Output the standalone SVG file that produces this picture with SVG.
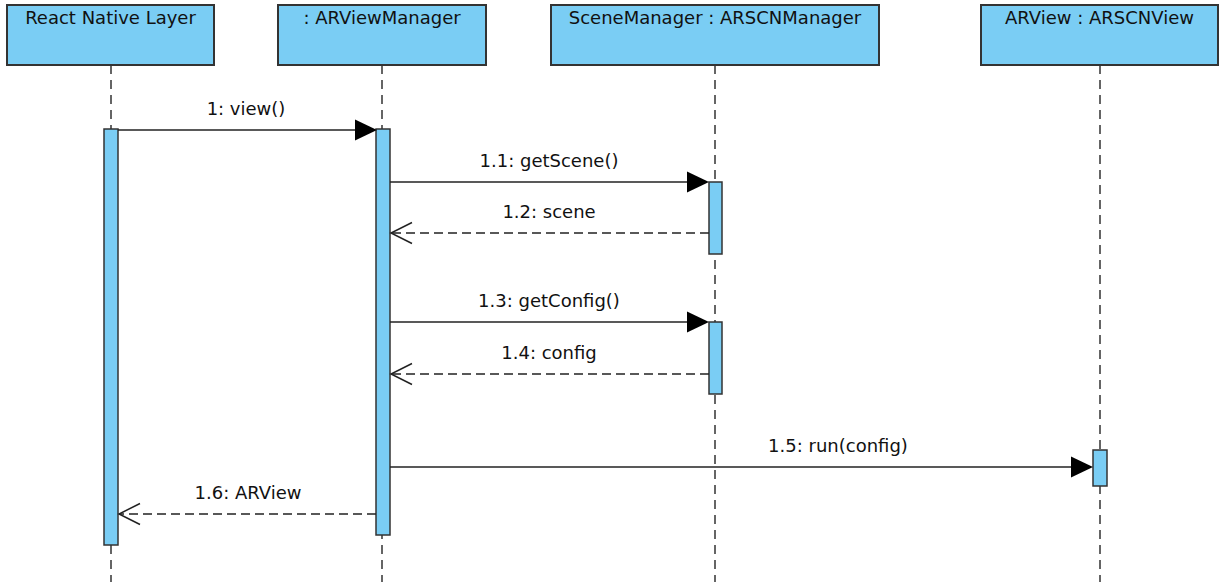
<svg xmlns="http://www.w3.org/2000/svg" width="1221" height="582" viewBox="0 0 1221 582">
  <style>
    .head { fill: #7acdf4; stroke: #333333; stroke-width: 2; }
    .bar { fill: #7acdf4; stroke: #333333; stroke-width: 1.5; }
    .life { stroke: #333333; stroke-width: 1.5; stroke-dasharray: 9 6; fill: none; }
    .call { stroke: #222222; stroke-width: 1.5; fill: none; }
    .ret { stroke: #222222; stroke-width: 1.5; stroke-dasharray: 9 5; fill: none; }
    .open { stroke: #222222; stroke-width: 1.5; fill: none; }
    .solid { fill: #000000; }
    text { font-family: "DejaVu Sans", "Liberation Sans", sans-serif; font-size: 18px; fill: #111111; text-anchor: middle; }
  </style>

  <!-- lifelines -->
  <g id="lifelines">
    <line class="life" x1="111" y1="65" x2="111" y2="582"/>
    <line class="life" x1="382" y1="65" x2="382" y2="582"/>
    <line class="life" x1="715" y1="65" x2="715" y2="582"/>
    <line class="life" x1="1100" y1="65" x2="1100" y2="582"/>
  </g>

  <g id="react-native-layer">
    <rect class="head" x="7" y="5" width="207" height="60"/>
    <text x="110.5" y="24">React Native Layer</text>
    <rect class="bar" x="104" y="129" width="14" height="416"/>
  </g>

  <g id="ar-view-manager">
    <rect class="head" x="278" y="5" width="208" height="60"/>
    <text x="382" y="24">: ARViewManager</text>
    <rect class="bar" x="376" y="129" width="14" height="406"/>
  </g>

  <g id="scene-manager">
    <rect class="head" x="551" y="5" width="328" height="60"/>
    <text x="715" y="24">SceneManager : ARSCNManager</text>
    <rect class="bar" x="709" y="182" width="13" height="72"/>
    <rect class="bar" x="709" y="322" width="13" height="72"/>
  </g>

  <g id="ar-view">
    <rect class="head" x="981" y="5" width="237" height="60"/>
    <text x="1099.5" y="24">ARView : ARSCNView</text>
    <rect class="bar" x="1093" y="450" width="14" height="36"/>
  </g>

  <!-- messages -->
  <g id="connectors">
    <line class="call" x1="118" y1="130" x2="358" y2="130"/>
    <polygon class="solid" points="355,119.5 377,130 355,140.5"/>
    <text x="246" y="115">1: view()</text>

    <line class="call" x1="390" y1="182" x2="690" y2="182"/>
    <polygon class="solid" points="687,171.5 709,182 687,192.5"/>
    <text x="549" y="167">1.1: getScene()</text>

    <line class="ret" x1="709" y1="233" x2="391" y2="233"/>
    <polyline class="open" points="412,222.5 391,233 412,243.5"/>
    <text x="549" y="218">1.2: scene</text>

    <line class="call" x1="390" y1="322" x2="690" y2="322"/>
    <polygon class="solid" points="687,311.5 709,322 687,332.5"/>
    <text x="549" y="307">1.3: getConfig()</text>

    <line class="ret" x1="709" y1="374" x2="391" y2="374"/>
    <polyline class="open" points="412,363.5 391,374 412,384.5"/>
    <text x="549" y="359">1.4: config</text>

    <line class="call" x1="390" y1="467" x2="1074" y2="467"/>
    <polygon class="solid" points="1071,456.5 1093,467 1071,477.5"/>
    <text x="838" y="452">1.5: run(config)</text>

    <line class="ret" x1="376" y1="514" x2="119" y2="514"/>
    <polyline class="open" points="140,503.5 119,514 140,524.5"/>
    <text x="248" y="499">1.6: ARView</text>
  </g>
</svg>
